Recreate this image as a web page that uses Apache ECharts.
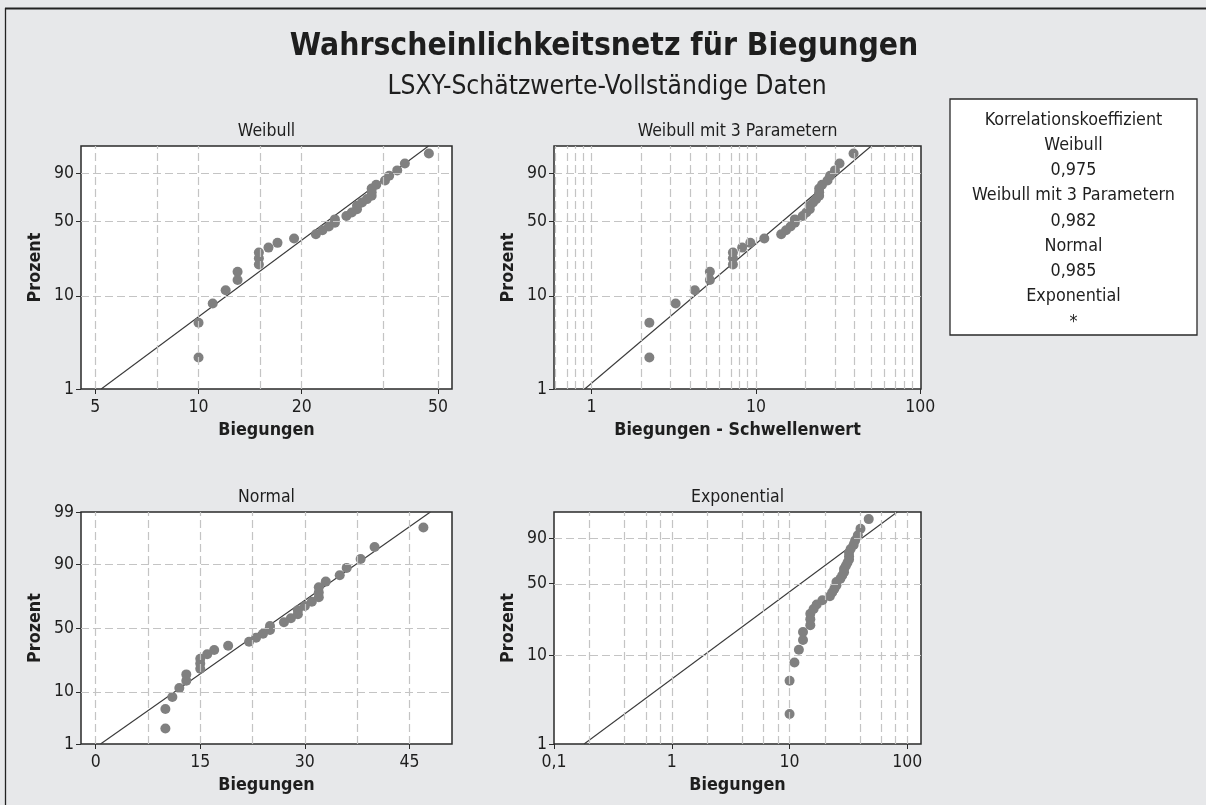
<!DOCTYPE html>
<html>
<head>
<meta charset="utf-8">
<script src="https://cdn.jsdelivr.net/npm/echarts@6/dist/echarts.min.js"></script>
<style>
html,body{margin:0;padding:0;background:#e7e8ea;}
#chart{width:1206px;height:805px;}
</style>
</head>
<body>
<div id="chart"></div>
<script>
// ---------- data ----------
const biegungen = [10,10,11,12,13,13,15,15,15,16,17,19,22,23,24,25,25,27,28,29,29,30,31,32,32,32,33,35,36,38,40,47];
const prozent = [2.2,5.2,8.3,11.4,14.5,17.6,20.7,23.8,26.9,29.9,33.0,36.1,39.2,42.3,45.4,48.5,51.5,54.6,57.7,60.8,63.9,67.0,70.1,73.1,76.2,79.3,82.4,85.5,88.6,91.7,94.8,97.8];
const schwellenwert = 7.75;
const linieProzent = [1, 99];
const weibullLinie = [5.2, 46.9];
const weibull3Linie = [0.91, 50.3];
const normalLinie = [0.7, 48.0];
const exponentialLinie = [0.18, 82];
const weibullXBeschriftung = [5, 10, 20, 50];
const weibullXGitter = [5, 7.5, 10, 15, 20, 35, 50];
const weibull3XBeschriftung = [1, 10, 100];
const weibull3XGitter = [0.6,0.7,0.8,0.9,1,2,3,4,5,6,7,8,9,10,20,30,40,50,60,70,80,90];
const normalXBeschriftung = [0, 15, 30, 45];
const normalXGitter = [0, 7.5, 15, 22.5, 30, 37.5, 45];
const expXBeschriftung = [0.1, 1, 10, 100];
const expXGitter = [0.2,0.4,0.6,0.8,1,2,4,6,8,10,20,40,60,80,100];
const wbYBeschriftung = [1, 10, 50, 90];
const normalYBeschriftung = [1, 10, 50, 90, 99];
const yGitter = [10, 50, 90];
const yBereich = [1, 99];
const verteilungen = ['Weibull', 'Weibull mit 3 Parametern', 'Normal', 'Exponential'];
const korrelation = [0.975, 0.982, 0.985, null];

// ---------- helpers ----------
const FONT = "'DejaVu Sans Condensed', 'DejaVu Sans', sans-serif";
const TXT = '#1e1e1e';
function normInv(p){
  const a=[-3.969683028665376e+01,2.209460984245205e+02,-2.759285104469687e+02,1.383577518672690e+02,-3.066479806614716e+01,2.506628277459239e+00];
  const b=[-5.447609879822406e+01,1.615858368580409e+02,-1.556989798598866e+02,6.680131188771972e+01,-1.328068155288572e+01];
  const c=[-7.784894002430293e-03,-3.223964580411365e-01,-2.400758277161838e+00,-2.549732539343734e+00,4.374664141464968e+00,2.938163982698783e+00];
  const d=[7.784695709041462e-03,3.224671290700398e-01,2.445134137142996e+00,3.754408661907416e+00];
  const pl=0.02425, ph=1-pl; let q,r;
  if(p<pl){q=Math.sqrt(-2*Math.log(p));return (((((c[0]*q+c[1])*q+c[2])*q+c[3])*q+c[4])*q+c[5])/((((d[0]*q+d[1])*q+d[2])*q+d[3])*q+1);}
  if(p<=ph){q=p-0.5;r=q*q;return (((((a[0]*r+a[1])*r+a[2])*r+a[3])*r+a[4])*r+a[5])*q/(((((b[0]*r+b[1])*r+b[2])*r+b[3])*r+b[4])*r+1);}
  q=Math.sqrt(-2*Math.log(1-p));return -(((((c[0]*q+c[1])*q+c[2])*q+c[3])*q+c[4])*q+c[5])/((((d[0]*q+d[1])*q+d[2])*q+d[3])*q+1);
}
const wbP = pct => Math.log(-Math.log(1 - pct/100));
const nP = pct => normInv(pct/100);
const lg = v => Math.log10(v);
const lin = v => v;
const de = v => String(v).replace('.', ',');
function fmt(ticks, tf){
  return function(v){
    for (const t of ticks) if (Math.abs(tf(t) - v) < 1e-6) return de(t);
    return '';
  };
}

const panels = [
  {titel:'Weibull', xName:'Biegungen', tx:lg, ty:wbP, shift:0, xr:[4.54,54.9], xLab:weibullXBeschriftung, xGrid:weibullXGitter, yLab:wbYBeschriftung, linie:weibullLinie,
   grid:{left:81, top:146, width:371, height:243}},
  {titel:'Weibull mit 3 Parametern', xName:'Biegungen - Schwellenwert', tx:lg, ty:wbP, shift:schwellenwert, xr:[0.592,100.9], xLab:weibull3XBeschriftung, xGrid:weibull3XGitter, yLab:wbYBeschriftung, linie:weibull3Linie,
   grid:{left:554, top:146, width:367, height:243}},
  {titel:'Normal', xName:'Biegungen', tx:lin, ty:nP, shift:0, xr:[-2.1,51.1], xLab:normalXBeschriftung, xGrid:normalXGitter, yLab:normalYBeschriftung, linie:normalLinie,
   grid:{left:81, top:512, width:371, height:232}},
  {titel:'Exponential', xName:'Biegungen', tx:lg, ty:wbP, shift:0, xr:[0.1,130.6], xLab:expXBeschriftung, xGrid:expXGitter, yLab:wbYBeschriftung, linie:exponentialLinie,
   grid:{left:554, top:512, width:367, height:232}}
];

const grids = [], xAxes = [], yAxes = [], series = [], graphics = [];
const tickStyle = {color:'#2a2a2a', width:1};
panels.forEach((P, i) => {
  grids.push(Object.assign({show:true, backgroundColor:'#ffffff', borderColor:'#2a2a2a', borderWidth:1.5, containLabel:false}, P.grid));
  const xLabVals = P.xLab.map(P.tx), yLabVals = P.yLab.map(P.ty);
  xAxes.push({
    gridIndex:i, type:'value', min:P.tx(P.xr[0]), max:P.tx(P.xr[1]),
    axisLine:{show:false, onZero:false}, splitLine:{show:false},
    axisTick:{show:true, customValues:xLabVals, length:5, lineStyle:tickStyle},
    axisLabel:{customValues:xLabVals, formatter:fmt(P.xLab, P.tx), margin:9, fontFamily:FONT, fontSize:17.5, color:TXT},
    name:P.xName, nameLocation:'middle', nameGap:32,
    nameTextStyle:{fontFamily:FONT, fontSize:17.8, fontWeight:'bold', color:TXT}
  });
  yAxes.push({
    gridIndex:i, type:'value', min:P.ty(yBereich[0]), max:P.ty(yBereich[1]),
    axisLine:{show:false, onZero:false}, splitLine:{show:false},
    axisTick:{show:true, customValues:yLabVals, length:5, lineStyle:tickStyle},
    axisLabel:{customValues:yLabVals, formatter:fmt(P.yLab, P.ty), margin:7, fontFamily:FONT, fontSize:17.5, color:TXT},
    name:'Prozent', nameLocation:'middle', nameGap:37,
    nameTextStyle:{fontFamily:FONT, fontSize:17.8, fontWeight:'bold', color:TXT}
  });
  // dashed reference grid
  series.push({
    type:'line', xAxisIndex:i, yAxisIndex:i, data:[], z:1, silent:true,
    markLine:{
      silent:true, symbol:['none','none'], animation:false,
      label:{show:false},
      lineStyle:{color:'#c4c4c4', width:1.2, type:[8,4]},
      emphasis:{disabled:true},
      data: P.xGrid.map(v => ({xAxis:P.tx(v)})).concat(yGitter.map(v => ({yAxis:P.ty(v)})))
    }
  });
  // fitted line
  series.push({
    type:'line', xAxisIndex:i, yAxisIndex:i, z:3, symbol:'none', silent:true, animation:false,
    lineStyle:{color:'#3a3a3a', width:1.1},
    data: P.linie.map((v, k) => [P.tx(v), P.ty(linieProzent[k])])
  });
  // data points
  series.push({
    type:'scatter', xAxisIndex:i, yAxisIndex:i, z:4, symbolSize:10, animation:false,
    itemStyle:{color:'#808080', opacity:1},
    data: biegungen.map((v, k) => [P.tx(v - P.shift), P.ty(prozent[k])])
  });
  // panel title
  graphics.push({type:'text', x:P.grid.left + P.grid.width/2, y:P.grid.top - 15,
    style:{text:P.titel, font:'17.5px ' + FONT, fill:TXT, textAlign:'center', textVerticalAlign:'middle'}});
});

// main titles
graphics.push({type:'text', x:604, y:47, style:{text:'Wahrscheinlichkeitsnetz für Biegungen', font:'bold 31.6px ' + FONT, fill:TXT, textAlign:'center', textVerticalAlign:'middle'}});
graphics.push({type:'text', x:607, y:87, style:{text:'LSXY-Schätzwerte-Vollständige Daten', font:'26.2px ' + FONT, fill:TXT, textAlign:'center', textVerticalAlign:'middle'}});

// correlation box
graphics.push({type:'rect', shape:{x:950, y:99, width:247, height:236}, style:{fill:'#ffffff', stroke:'#2a2a2a', lineWidth:1.3}});
const boxLines = ['Korrelationskoeffizient'];
verteilungen.forEach((n, k) => { boxLines.push(n); boxLines.push(korrelation[k] === null ? '*' : korrelation[k].toFixed(3).replace('.', ',')); });
boxLines.forEach((t, k) => {
  graphics.push({type:'text', x:1073.5, y:120 + k*25.25, style:{text:t, font:'17.8px ' + FONT, fill:TXT, textAlign:'center', textVerticalAlign:'middle'}});
});

// outer frame (top and left)
graphics.push({type:'line', shape:{x1:5, y1:8.5, x2:1206, y2:8.5}, style:{stroke:'#222', lineWidth:2}});
graphics.push({type:'line', shape:{x1:5.5, y1:8, x2:5.5, y2:805}, style:{stroke:'#222', lineWidth:1.3}});

const chart = echarts.init(document.getElementById('chart'), null, {renderer:'canvas'});
chart.setOption({
  backgroundColor:'#e7e8ea',
  animation:false,
  grid:grids, xAxis:xAxes, yAxis:yAxes, series:series, graphic:graphics
});
</script>
</body>
</html>
